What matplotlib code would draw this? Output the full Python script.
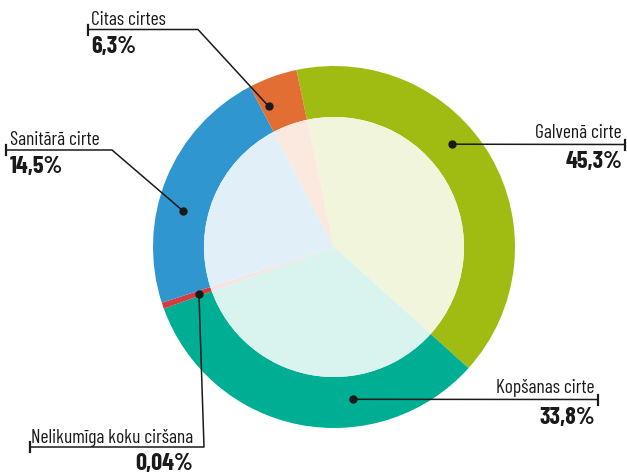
import numpy as np
import matplotlib
matplotlib.use('Agg')
import matplotlib.pyplot as plt
from matplotlib.colors import to_rgb

categories = ['Galvenā cirte', 'Kopšanas cirte', 'Nelikumīga koku ciršana', 'Sanitārā cirte', 'Citas cirtes']
shares = [40.0, 32.8, 0.55, 22.3, 4.35]
pct_labels = ['45,3%', '33,8%', '0,04%', '14,5%', '6,3%']
colors = ['#a0bc12', '#00ae94', '#d63c3f', '#2f96cf', '#e26e33']

plt.rcParams['font.family'] = ['Barlow Condensed', 'DejaVu Sans']

W, H = 627, 475
fig = plt.figure(figsize=(W / 100, H / 100), dpi=100)
ax = fig.add_axes([0, 0, 1, 1])

cx, cy = 334, H - 247
r_out, r_in = 181, 130

light = []
for c in colors:
    rgb = np.array(to_rgb(c))
    light.append(tuple(1 - 0.15 * (1 - rgb)))

ax.pie(shares, radius=r_out, center=(cx, cy), colors=colors, startangle=102,
       counterclock=False, wedgeprops=dict(width=r_out - r_in, linewidth=0))
ax.pie(shares, radius=r_in, center=(cx, cy), colors=light, startangle=102,
       counterclock=False, wedgeprops=dict(linewidth=0))

ax.set_xlim(0, W)
ax.set_ylim(0, H)
ax.set_aspect('equal')
ax.axis('off')

def dot(angle, r):
    a = np.radians(angle)
    return cx + r * np.sin(a), cy + r * np.cos(a)

line_col = '#1a1a1a'

# label layout: dot angle/radius, elbow path (pixels from top), tick x, text x, label baseline, number baseline, align
layout = {
    'Citas cirtes': (335.1, 155, [(88, 29.5), (198, 29.5)], 88, 91, 25, 53, 'left'),
    'Sanitārā cirte': (283.5, 155.6, [(6, 150), (112, 150)], 6, 10, 145, 173, 'left'),
    'Galvenā cirte': (49.0, 156.7, [(625, 144.5)], 625, 622, 138.5, 168.5, 'right'),
    'Kopšanas cirte': (172.8, 153.5, [(598, 399.5)], 598, 595, 393, 423.5, 'right'),
    'Nelikumīga koku ciršana': (250.8, 143, [(30, 447), (204, 447)], 30, 193, 443, 470, 'right'),
}

for name, pct in zip(categories, pct_labels):
    ang, rad, path, tick_x, tx, yb1, yb2, ha = layout[name]
    dx, dy = dot(ang, rad)
    pts = [(x, H - y) for x, y in path]
    xs = [p[0] for p in pts] + [dx]
    ys = [p[1] for p in pts] + [dy]
    ax.plot(xs, ys, color=line_col, lw=1.1, solid_capstyle='butt', zorder=5)
    ty = pts[0][1]
    ax.plot([tick_x, tick_x], [ty - 5, ty + 5], color=line_col, lw=1.6, zorder=5)
    ax.plot(dx, dy, 'o', color=line_col, ms=5, zorder=6)
    ax.text(tx, H - yb1, name, ha=ha, va='baseline', fontsize=14, color='#1a1a1a')
    ax.text(tx, H - yb2, pct, ha=ha, va='baseline', fontsize=17.5, fontweight='bold', color='#1a1a1a')

fig.savefig('out.png', dpi=100)
